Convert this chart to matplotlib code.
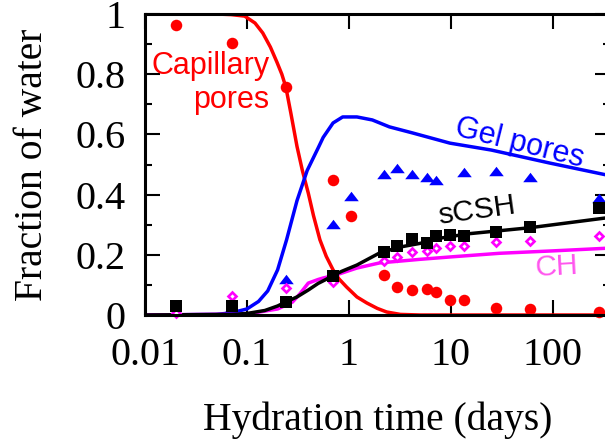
import matplotlib
matplotlib.use("Agg")
import matplotlib.pyplot as plt
from matplotlib.ticker import FixedLocator, LogLocator, NullFormatter

# measured points (days)
t_meas = [0.02, 0.071, 0.24, 0.7, 1.05, 2.2, 3.0, 4.2, 5.8, 7.1, 9.8, 13.4, 27.6, 60, 282]
cap_meas = [0.963, 0.904, 0.757, 0.449, 0.329, 0.133, 0.093, 0.083, 0.086, 0.076,
            0.05, 0.05, 0.023, 0.02, 0.01]

t_gel = [0.02, 0.071, 0.24, 0.7, 1.05, 2.2, 3.0, 4.2, 5.8, 7.1, 13.4, 27.6, 60, 282]
gel_meas = [0.013, 0.027, 0.12, 0.302, 0.395, 0.47, 0.49, 0.468, 0.458, 0.45,
            0.475, 0.478, 0.458, 0.389]

t_csh = [0.02, 0.071, 0.24, 0.7, 2.2, 3.0, 4.2, 5.8, 7.1, 9.8, 13.4, 27.6, 60, 282]
csh_meas = [0.03, 0.03, 0.043, 0.13, 0.209, 0.23, 0.252, 0.24, 0.262, 0.266,
            0.262, 0.276, 0.292, 0.355]

t_ch = [0.02, 0.071, 0.24, 0.7, 2.2, 3.0, 4.2, 5.8, 7.1, 9.8, 13.4, 27.6, 60, 282]
ch_meas = [0.007, 0.063, 0.09, 0.11, 0.18, 0.193, 0.21, 0.213, 0.222, 0.229,
           0.229, 0.243, 0.245, 0.262]

# model curves
t_cap = [0.01, 0.05, 0.07, 0.095, 0.12, 0.143, 0.17, 0.197, 0.22, 0.241, 0.27, 0.31,
         0.35, 0.40, 0.45, 0.52, 0.6, 0.7, 0.8, 0.95, 1.2, 1.5, 1.9, 2.35, 3.2, 5, 400]
cap_model = [1.0, 1.0, 0.998, 0.993, 0.97, 0.937, 0.89, 0.84, 0.80, 0.757, 0.67, 0.56,
             0.48, 0.405, 0.33, 0.25, 0.195, 0.15, 0.12, 0.093, 0.06, 0.04, 0.022,
             0.01, 0.002, 0.0, 0.0]

t_gelc = [0.01, 0.05, 0.07, 0.1, 0.13, 0.16, 0.2, 0.245, 0.31, 0.39, 0.5, 0.56, 0.7,
          0.87, 1.2, 1.7, 2.5, 4.2, 9.8, 25, 93, 400]
gel_model = [0.0, 0.002, 0.007, 0.02, 0.045, 0.08, 0.15, 0.25, 0.38, 0.48, 0.555, 0.59,
             0.638, 0.658, 0.658, 0.648, 0.625, 0.605, 0.571, 0.548, 0.505, 0.46]

t_cshc = [0.01, 0.07, 0.1, 0.15, 0.2, 0.24, 0.31, 0.4, 0.5, 0.58, 0.72, 0.85, 1.2, 2.0,
          3.2, 5, 7.8, 15, 60, 400]
csh_model = [0.0, 0.002, 0.005, 0.015, 0.03, 0.043, 0.06, 0.083, 0.105, 0.116, 0.133,
             0.145, 0.166, 0.206, 0.226, 0.238, 0.255, 0.27, 0.29, 0.326]

t_chc = [0.01, 0.1, 0.2, 0.25, 0.28, 0.33, 0.4, 0.5, 0.56, 0.75, 1.2, 2.0, 5, 10, 30,
         100, 400]
ch_model = [0.0, 0.003, 0.02, 0.035, 0.043, 0.07, 0.106, 0.118, 0.123, 0.133, 0.156,
            0.173, 0.185, 0.193, 0.205, 0.213, 0.223]

RED = "#ff0000"
BLUE = "#0000ff"
MAG = "#ff00ff"

plt.rcParams["font.family"] = ["Liberation Serif", "DejaVu Serif"]

fig = plt.figure(figsize=(6.05, 4.43), dpi=100)
ax = fig.add_axes([145 / 605, 1 - 315 / 443, 465 / 605, 301 / 443])

lw = 2.5
ax.plot(t_cap, cap_model, color=RED, lw=lw)
ax.plot(t_gelc, gel_model, color=BLUE, lw=lw)
ax.plot(t_chc, ch_model, color=MAG, lw=lw)
ax.plot(t_cshc, csh_model, color="black", lw=lw)

tri = [(-1, -0.65), (1, -0.65), (0, 0.65)]
ax.plot(t_meas, cap_meas, "o", color=RED, ms=8.3, mew=0, clip_on=False)
ax.plot(t_gel, gel_meas, ls="none", marker=tri, color=BLUE, ms=10.5, mew=0, clip_on=False)
ax.plot(t_ch, ch_meas, "D", mfc="white", mec=MAG, ms=4.3, mew=1.9, clip_on=False)
ax.plot(t_csh, csh_meas, "s", color="black", ms=8.3, mew=0, clip_on=False)

ax.set_xscale("log")
ax.set_xlim(0.01, 365)
ax.set_ylim(0, 1)

ax.xaxis.set_major_locator(FixedLocator([0.01, 0.1, 1, 10, 100]))
ax.xaxis.set_minor_locator(LogLocator(base=10, subs=range(2, 10)))
ax.xaxis.set_minor_formatter(NullFormatter())
ax.set_xticklabels(["0.01", "0.1", "1", "10", "100"])
ax.set_yticks([0, 0.2, 0.4, 0.6, 0.8, 1.0])
ax.set_yticklabels(["0", "0.2", "0.4", "0.6", "0.8", "1"])
ax.set_yticks([0.1, 0.3, 0.5, 0.7, 0.9], minor=True)

ax.tick_params(which="both", direction="in", top=True, right=True, width=1.5,
               labelsize=29)
ax.tick_params(which="major", length=11)
ax.tick_params(which="minor", length=5)
ax.tick_params(axis="y", pad=14)
ax.tick_params(axis="x", pad=16)
for s in ax.spines.values():
    s.set_linewidth(2.2)

ax.set_xlabel("Hydration time (days)", fontsize=28.5, va="baseline")
ax.xaxis.set_label_coords(0.5, -0.382)
ax.set_ylabel("Fraction of water", fontsize=28.5)
ax.yaxis.set_label_coords(-0.202, 0.5)

sans = ["Liberation Sans", "DejaVu Sans"]
ax.text(0.167, 0.8007, "Capillary", color=RED, fontsize=22, family=sans,
        ha="right", va="baseline")
ax.text(0.167, 0.688, "pores", color=RED, fontsize=22, family=sans,
        ha="right", va="baseline")
ax.text(47.5, 0.571, "Gel pores", color=BLUE, fontsize=22, family=sans,
        ha="center", va="center", rotation=-14, rotation_mode="anchor")
ax.text(18, 0.3455, "sCSH", color="black", fontsize=21.5, family=sans,
        ha="center", va="center", rotation=8, rotation_mode="anchor")
ax.text(109, 0.16, "CH", color="#ff55ee", fontsize=21.5, family=sans,
        ha="center", va="center", rotation=3, rotation_mode="anchor")

fig.savefig("out.png", dpi=100)
